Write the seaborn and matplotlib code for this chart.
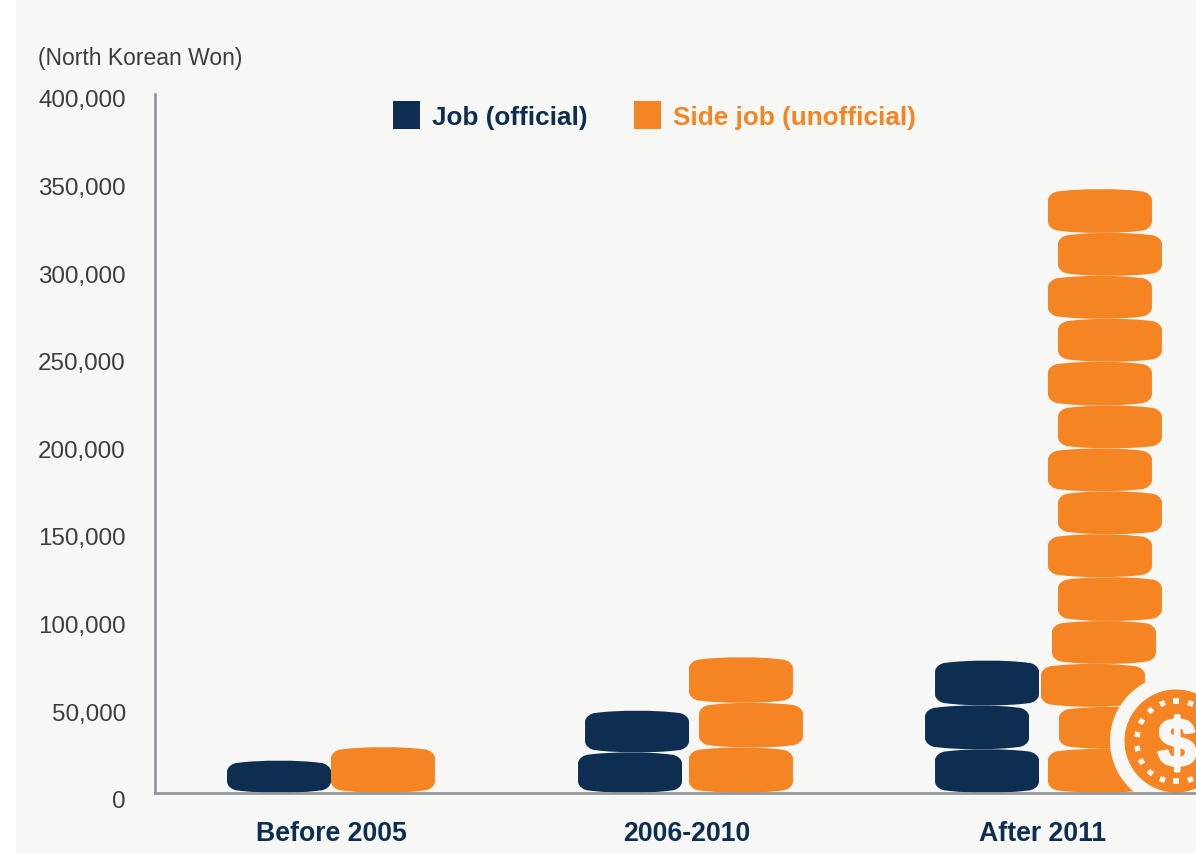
import numpy as np
import pandas as pd
import matplotlib
matplotlib.use('Agg')
import matplotlib.pyplot as plt
import matplotlib.patheffects as pe
import matplotlib.transforms as mtrans
from matplotlib.patches import Ellipse, PathPatch, Patch, Rectangle
from matplotlib.path import Path
import seaborn as sns

# Datos: altura de cada moneda de la pila (won)
periods = ['Before 2005', '2006-2010', 'After 2011']
series_names = ['Job (official)', 'Side job (unofficial)']
job_coins = [
    [18300],
    [23000, 23800],
    [24800, 25000, 25600],
]
side_coins = [
    [26000],
    [25800, 25500, 26000],
    [25000, 24000, 24500, 24500, 25000, 24500, 24500,
     24500, 24500, 25000, 24500, 24500, 24500, 25000],
]
y_ticks = [0, 50000, 100000, 150000, 200000, 250000, 300000, 350000, 400000]

# Estilo
BG = '#f7f7f5'
NAVY = '#0d2e50'
ORANGE = '#f58423'
AXIS = '#8f9499'
TEXT = '#3d3d3d'

# desplazamiento lateral de cada moneda, en pixeles
job_shift = [[0], [-5, 2], [-4, -14, -4]]
side_shift = [[0], [2, 12, 2], [5, 16, -2, 9, 15, 5, 15, 5, 15, 5, 15, 5, 15, 5]]

sns.set_theme(style='white')
plt.rcParams['font.family'] = ['Liberation Sans', 'DejaVu Sans']

fig = plt.figure(figsize=(11.96, 8.54), dpi=100, facecolor=BG)
W, H = 1196, 854
px_y0, px_ytop = 793.7, 92.9
ax = fig.add_axes([155 / W, 1 - px_y0 / H, (W - 155) / W, (px_y0 - px_ytop) / H])
ax.set_facecolor(BG)
fig.add_artist(Rectangle((0, 0), 16 / W, 1, transform=fig.transFigure, color='white', lw=0, zorder=-5))

df = pd.DataFrame({
    'period': periods * 2,
    'series': [series_names[0]] * 3 + [series_names[1]] * 3,
    'total': [sum(c) for c in job_coins] + [sum(c) for c in side_coins],
})

sns.barplot(data=df, x='period', y='total', hue='series', order=periods,
            palette=[NAVY, ORANGE], width=0.584, gap=0, saturation=1,
            legend=False, ax=ax)

ax.set_ylim(0, 400000)
ax.set_xlim((155 - 331) / 356, (W - 331) / 356)

ux = 1 / 356            # unidades x por pixel
uy = 400000 / (px_y0 - px_ytop)  # unidades y por pixel


def coin(cx, bottom, width, height, color):
    # moneda: rectangulo redondeado, borde casi plano que sube junto a las esquinas
    x0, x1 = cx - width / 2, cx + width / 2
    y0, y1 = bottom, bottom + height
    rx, ry, b = 11 * ux, 11 * uy, 2.2 * uy
    e = width * 0.2
    k = 0.5
    verts = [
        (x0, y0 + ry), (x0, y1 - ry),
        (x0, y1 - b - k * (ry - b)), (x0 + k * rx, y1 - b), (x0 + rx, y1 - b),
        (x0 + rx + e, y1 + b / 3), (x1 - rx - e, y1 + b / 3), (x1 - rx, y1 - b),
        (x1 - k * rx, y1 - b), (x1, y1 - b - k * (ry - b)), (x1, y1 - ry),
        (x1, y0 + ry),
        (x1, y0 + b + k * (ry - b)), (x1 - k * rx, y0 + b), (x1 - rx, y0 + b),
        (x1 - rx - e, y0 - b / 3), (x0 + rx + e, y0 - b / 3), (x0 + rx, y0 + b),
        (x0 + k * rx, y0 + b), (x0, y0 + b + k * (ry - b)), (x0, y0 + ry),
    ]
    curve = [Path.CURVE4] * 3
    codes = [Path.MOVETO, Path.LINETO] + curve * 3 + [Path.LINETO] + curve * 3
    ax.add_patch(PathPatch(Path(verts, codes), facecolor=color, edgecolor='none', zorder=3))


# las barras de seaborn dan la posicion y se sustituyen por las pilas
stacks = [(job_coins, job_shift, NAVY), (side_coins, side_shift, ORANGE)]
for container, (coins, shifts, color) in zip(ax.containers, stacks):
    for i, bar in enumerate(container):
        bar.set_visible(False)
        cx = bar.get_x() + bar.get_width() / 2
        bottom = 0
        for h, s in zip(coins[i], shifts[i]):
            coin(cx + s * ux, bottom, bar.get_width(), h, color)
            bottom += h

# icono de la moneda con el dolar
icon_x = (1176 - 331) * ux
icon_y = (px_y0 - 742) * uy
ax.add_patch(Ellipse((icon_x, icon_y), 132 * ux, 132 * uy, facecolor=BG, edgecolor='none', zorder=4))
ax.add_patch(Ellipse((icon_x, icon_y), 103 * ux, 103 * uy, facecolor=ORANGE, edgecolor='none', zorder=5))
for ang in np.arange(0, 360, 20):
    a = np.deg2rad(ang + 90)
    ax.plot(icon_x + 40 * ux * np.cos(a), icon_y + 40 * uy * np.sin(a), marker=(4, 0, ang + 45),
            ms=5.5, color=BG, mew=0, zorder=6)
ax.text(icon_x + 1 * ux, icon_y, '$', color=BG, fontsize=49, fontweight='bold', ha='center',
        va='center_baseline', zorder=6,
        path_effects=[pe.withStroke(linewidth=2.2, foreground=BG)])

# Ejes
sns.despine(ax=ax)
ax.spines['left'].set_bounds(0, (px_y0 - 95) * uy)
for side in ['left', 'bottom']:
    ax.spines[side].set_color(AXIS)
    ax.spines[side].set_linewidth(1.9)
    ax.spines[side].set_zorder(7)

ax.set_xlabel('')
ax.set_ylabel('')
ax.set_yticks(y_ticks)
ax.set_yticklabels([f'{v:,}' for v in y_ticks], fontsize=17.4, color=TEXT)
ax.tick_params(axis='y', length=0, pad=21)
ax.tick_params(axis='x', length=0, pad=19.8)
shift_down = mtrans.ScaledTranslation(0, -6 / 100, fig.dpi_scale_trans)
for lab in ax.get_yticklabels():
    lab.set_transform(lab.get_transform() + shift_down)
for lab in ax.get_xticklabels():
    lab.set_fontsize(19.2)
    lab.set_fontweight('bold')
    lab.set_color(NAVY)

fig.text(38 / W, 1 - 58 / H, '(North Korean Won)', fontsize=16.5, color=TEXT, ha='left', va='center')

# Leyenda
handles = [Patch(facecolor=NAVY, edgecolor='none'), Patch(facecolor=ORANGE, edgecolor='none')]
leg = fig.legend(handles, series_names, ncol=2, frameon=False, loc='center left',
                 bbox_to_anchor=(393 / W, 1 - 116 / H), borderpad=0, borderaxespad=0,
                 prop={'family': 'Liberation Sans', 'weight': 'bold', 'size': 18.85},
                 handlelength=1.03, handleheight=1.23, handletextpad=0.45, columnspacing=1.78)
for t, c in zip(leg.get_texts(), [NAVY, ORANGE]):
    t.set_color(c)

fig.savefig('out.png', dpi=100, facecolor=BG)
